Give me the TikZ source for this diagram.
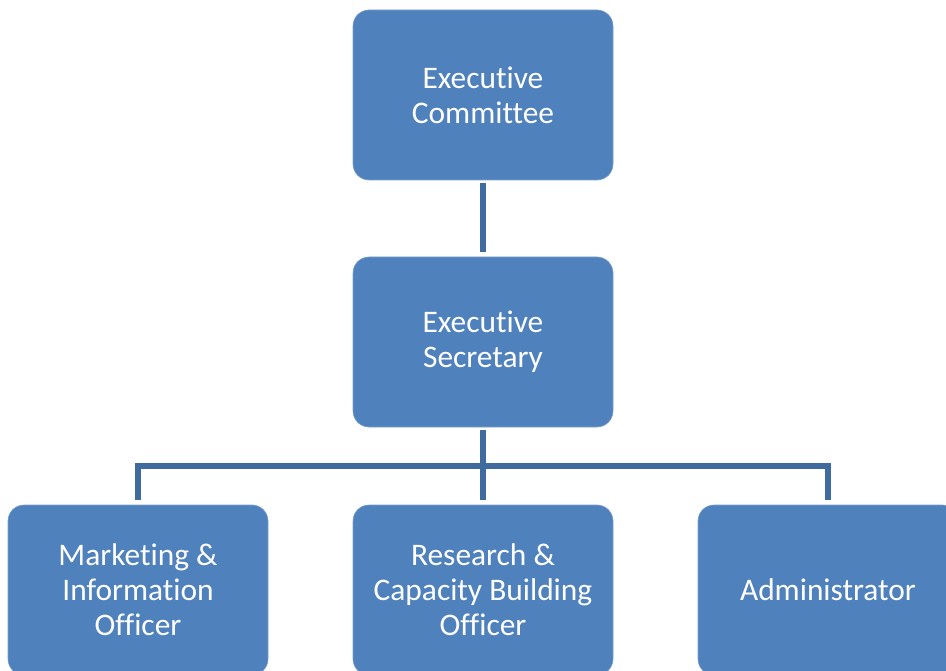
\documentclass[tikz,border=0pt]{standalone}
\usepackage{fontspec}
\setmainfont[Ligatures=NoCommon]{Carlito}
\definecolor{boxBg}{HTML}{4F81BD}
\definecolor{boxBorder}{HTML}{7A9FCC}
\definecolor{lineCol}{HTML}{3F6B9F}
\tikzset{
boxstyle/.style={rectangle, rounded corners=16pt, minimum width=260pt, minimum height=170pt, inner sep=0pt, outer sep=0pt, fill=boxBg, draw=boxBorder, line width=0.6pt, text=white, align=center, font=\fontsize{31.4}{35}\selectfont},
linestyle/.style={draw=lineCol, line width=5.5pt, shorten <=3pt, shorten >=5pt}
}
\begin{document}
\begin{tikzpicture}[x=1pt, y=-1pt]
\useasboundingbox (0,0) rectangle (946,671);
\clip (0,0) rectangle (946,671);

\node [boxstyle] (ec) at (483,95) {Executive\\Committee};
\node [boxstyle] (es) at (483,342) {Executive\\Secretary};
\node [boxstyle] (mi) at (138,590) {Marketing \&\\Information\\Officer};
\node [boxstyle] (rc) at (483,590) {Research \&\\Capacity Building\\Officer};
\node [boxstyle] (ad) at (828,590) {Administrator};

\coordinate (bus) at (483,466);

\draw [linestyle] (ec) -- (es);
\draw [linestyle] (es) -- (rc);
\draw [linestyle, shorten <=0pt] (bus) -| (mi);
\draw [linestyle, shorten <=0pt] (bus) -| (ad);
\end{tikzpicture}
\end{document}
